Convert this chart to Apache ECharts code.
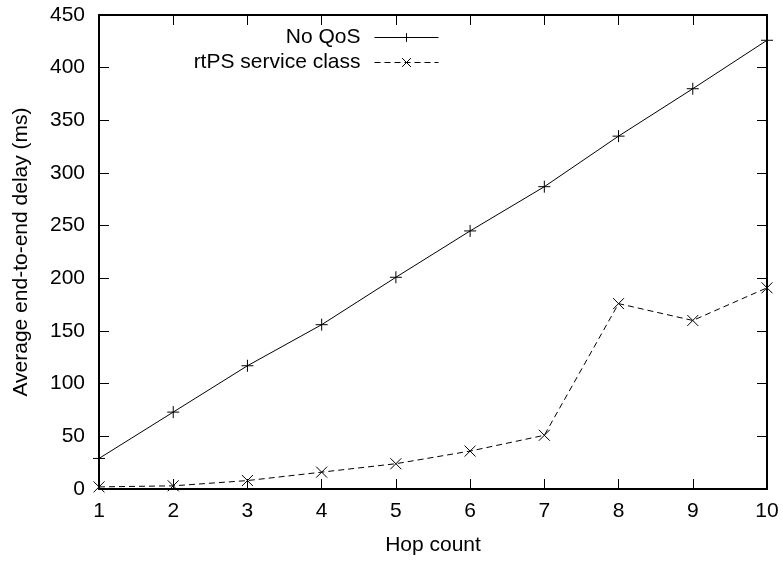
<!DOCTYPE html>
<html>
<head>
<meta charset="utf-8">
<script src="https://cdn.jsdelivr.net/npm/echarts@6/dist/echarts.min.js"></script>
<style>html,body{margin:0;padding:0;background:#fff}#c{width:783px;height:563px}</style>
</head>
<body>
<div id="c"></div>
<script>
const hops = [1, 2, 3, 4, 5, 6, 7, 8, 9, 10];
const noQos = [29, 73, 117, 156, 201, 245, 287, 335, 380, 426];
const rtps = [2, 3, 8, 16, 24, 36, 51, 176, 160, 191];
const seriesNames = ['No QoS', 'rtPS service class'];

const FONT = 'Liberation Sans, Arial, sans-serif';
const FS = 21;
const plus = 'path://M0,-10 L0,10 M-10,0 L10,0';
const cross = 'path://M-10,-10 L10,10 M-10,10 L10,-10';

const chart = echarts.init(document.getElementById('c'), null, {renderer: 'canvas'});
const baseAxis = {
  axisLine: {show: true, onZero: false, lineStyle: {color: '#000', width: 2}},
  axisTick: {show: true, inside: true, length: 10, lineStyle: {color: '#000', width: 1}},
  splitLine: {show: false}
};
chart.setOption({
  animation: false,
  backgroundColor: '#fff',
  textStyle: {fontFamily: FONT},
  grid: {left: 99, right: 16, top: 15, bottom: 74, containLabel: false},
  legend: {
    orient: 'vertical', right: 339, top: 22, align: 'right',
    itemWidth: 64, itemHeight: 11, itemGap: 4,
    lineStyle: {width: 1},
    itemStyle: {borderWidth: 1},
    textStyle: {fontFamily: FONT, fontSize: FS, color: '#000', padding: [0, 9, 0, 0]},
    data: seriesNames
  },
  xAxis: [
    Object.assign({}, baseAxis, {
      type: 'value', min: 1, max: 10, interval: 1, position: 'bottom',
      name: 'Hop count', nameLocation: 'middle', nameGap: 46,
      nameTextStyle: {fontFamily: FONT, fontSize: FS, color: '#000'},
      axisLabel: {fontFamily: FONT, fontSize: FS, color: '#000', margin: 12}
    }),
    Object.assign({}, baseAxis, {
      type: 'value', min: 1, max: 10, interval: 1, position: 'top',
      axisLabel: {show: false}
    })
  ],
  yAxis: [
    Object.assign({}, baseAxis, {
      type: 'value', min: 0, max: 450, interval: 50, position: 'left',
      name: 'Average end-to-end delay (ms)', nameLocation: 'middle', nameGap: 67,
      nameTextStyle: {fontFamily: FONT, fontSize: FS, color: '#000'},
      axisLabel: {fontFamily: FONT, fontSize: FS, color: '#000', margin: 14}
    }),
    Object.assign({}, baseAxis, {
      type: 'value', min: 0, max: 450, interval: 50, position: 'right',
      axisLabel: {show: false}
    })
  ],
  series: [
    {
      name: seriesNames[0], type: 'line',
      data: hops.map((h, i) => [h, noQos[i]]),
      symbol: plus, symbolSize: 12, showAllSymbol: true,
      lineStyle: {color: '#000', width: 1, type: 'solid'},
      itemStyle: {color: 'none', borderColor: '#000', borderWidth: 1},
      emphasis: {disabled: true}
    },
    {
      name: seriesNames[1], type: 'line',
      data: hops.map((h, i) => [h, rtps[i]]),
      symbol: cross, symbolSize: 11, showAllSymbol: true,
      lineStyle: {color: '#000', width: 1, type: [6, 4]},
      itemStyle: {color: 'none', borderColor: '#000', borderWidth: 1},
      emphasis: {disabled: true}
    }
  ]
});
</script>
</body>
</html>
